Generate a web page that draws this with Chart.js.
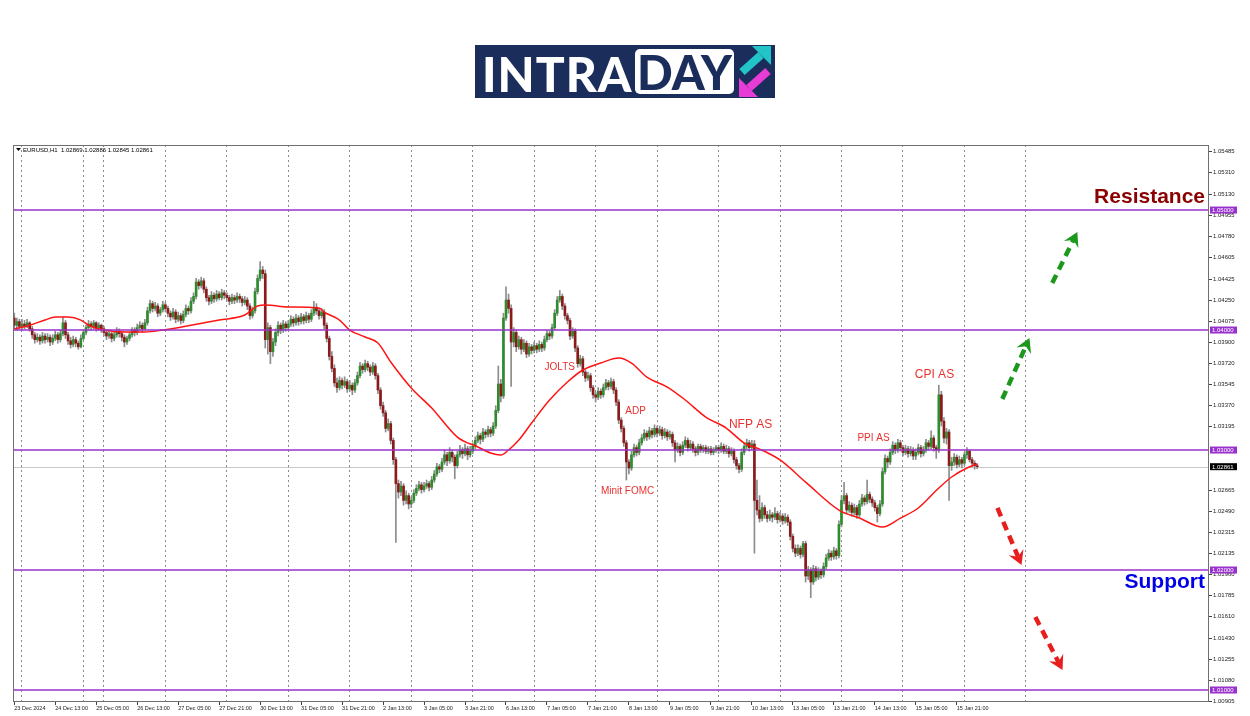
<!DOCTYPE html>
<html>
<head>
<meta charset="utf-8">
<script src="https://cdn.jsdelivr.net/npm/chart.js@4.4.1/dist/chart.umd.min.js"></script>
<style>
  html, body { margin: 0; padding: 0; background: #fff; }
  #wrap { position: relative; width: 1250px; height: 716px; }
  #logo { position: absolute; left: 475px; top: 45px; width: 300px; height: 53px; background: #1b2d5a; }
  #logo .intra { position: absolute; left: 7px; top: 0; line-height: 53px; font: 900 48px "Lato"; color: #fff; letter-spacing: 1px; }
  #logo .day { position: absolute; left: 160px; top: 4px; width: 99px; height: 45px; border-radius: 5px; background: #fff; color: #1b2d5a; font: 900 47px "Lato"; line-height: 46px; text-align: center; }
  #logo svg { position: absolute; left: 262px; top: 0; }
</style>
</head>
<body>
<div id="wrap">
  <canvas class="grafica" width="1250" height="716"></canvas>
  <div id="logo">
    <span class="intra">INTRA</span>
    <span class="day">DAY</span>
    <svg width="36" height="53" viewBox="0 0 36 53">
      <line x1="5" y1="27" x2="24" y2="10" stroke="#23c4c8" stroke-width="8"/>
      <polygon points="34,1 34,20 15,1" fill="#23c4c8"/>
      <line x1="31" y1="26" x2="12" y2="43" stroke="#e83cd6" stroke-width="8"/>
      <polygon points="2,52 2,33 21,52" fill="#e83cd6"/>
    </svg>
  </div>
</div>
<script>
// dias del grafico H1 (hora de inicio y numero de barras por dia)
const dias = ["23 Dec", "24 Dec", "25 Dec", "26 Dec", "27 Dec", "30 Dec", "31 Dec", "2 Jan", "3 Jan", "6 Jan",
    "7 Jan", "8 Jan", "9 Jan", "10 Jan", "13 Jan", "14 Jan", "15 Jan", "16 Jan", "17 Jan"];
const horaInicio = [21, 0, 0, 0, 0, 0, 0, 0, 0, 0, 0, 0, 0, 0, 0, 0, 0, 0, 0];
const barrasDia = [3, 24, 8, 24, 24, 24, 24, 24, 24, 24, 24, 24, 24, 24, 24, 24, 24, 24, 24];
const totalSlots = 467;

const etiquetasX = ["23 Dec 2024", "24 Dec 13:00", "25 Dec 05:00", "26 Dec 13:00", "27 Dec 05:00", "27 Dec 21:00",
    "30 Dec 13:00", "31 Dec 05:00", "31 Dec 21:00", "2 Jan 13:00", "3 Jan 05:00", "3 Jan 21:00", "6 Jan 13:00",
    "7 Jan 05:00", "7 Jan 21:00", "8 Jan 13:00", "9 Jan 05:00", "9 Jan 21:00", "10 Jan 13:00", "13 Jan 05:00",
    "13 Jan 21:00", "14 Jan 13:00", "15 Jan 05:00", "15 Jan 21:00"];

const ticksY = [1.05485, 1.05310, 1.05130, 1.04955, 1.04780, 1.04605, 1.04425, 1.04250, 1.04075, 1.03900,
    1.03720, 1.03545, 1.03370, 1.03195, 1.02665, 1.02490, 1.02315, 1.02135, 1.01960,
    1.01785, 1.01610, 1.01430, 1.01255, 1.01080, 1.00905];

const niveles = [1.05, 1.04, 1.03, 1.02, 1.01];
const precioActual = 1.02861;
const simbolo = "EURUSD,H1";
const ohlcUltima = "1.02869 1.02886 1.02845 1.02861";

// velas [open, high, low, close]
const velas = [
    // 23 Dec
    [1.0410,1.0414,1.0401,1.0404],[1.0404,1.0410,1.0400,1.0407],[1.0407,1.0409,1.0401,1.0403],
    // 24 Dec
    [1.0403,1.0409,1.0400,1.0405],[1.0405,1.0408,1.0401,1.0403],[1.0403,1.0409,1.0402,1.0406],[1.0406,1.0407,1.0399,1.0401],
    [1.0401,1.0403,1.0393,1.0396],[1.0396,1.0398,1.0389,1.0392],[1.0392,1.0397,1.0390,1.0394],[1.0394,1.0396,1.0388,1.0391],
    [1.0391,1.0398,1.0389,1.0395],[1.0395,1.0397,1.0389,1.0392],[1.0392,1.0397,1.0390,1.0394],[1.0394,1.0396,1.0387,1.0390],
    [1.0390,1.0396,1.0388,1.0393],[1.0393,1.0399,1.0391,1.0396],[1.0396,1.0398,1.0389,1.0392],[1.0392,1.0400,1.0390,1.0397],
    [1.0397,1.0411,1.0395,1.0406],[1.0406,1.0408,1.0393,1.0396],[1.0396,1.0398,1.0388,1.0391],[1.0391,1.0394,1.0385,1.0388],
    [1.0388,1.0395,1.0386,1.0392],[1.0392,1.0394,1.0386,1.0389],[1.0389,1.0391,1.0384,1.0386],[1.0386,1.0396,1.0385,1.0393],
    // 25 Dec
    [1.0393,1.0400,1.0392,1.0398],[1.0398,1.0404,1.0396,1.0402],[1.0402,1.0408,1.0400,1.0405],[1.0405,1.0407,1.0400,1.0403],
    [1.0403,1.0408,1.0401,1.0406],[1.0406,1.0407,1.0399,1.0402],[1.0402,1.0406,1.0400,1.0404],[1.0404,1.0405,1.0398,1.0401],
    // 26 Dec
    [1.0401,1.0403,1.0395,1.0398],[1.0398,1.0400,1.0392,1.0395],[1.0395,1.0400,1.0393,1.0397],[1.0397,1.0398,1.0390,1.0393],
    [1.0393,1.0399,1.0391,1.0396],[1.0396,1.0402,1.0394,1.0399],[1.0399,1.0401,1.0394,1.0397],[1.0397,1.0399,1.0391,1.0394],
    [1.0394,1.0396,1.0386,1.0390],[1.0390,1.0395,1.0388,1.0393],[1.0393,1.0398,1.0391,1.0396],[1.0396,1.0402,1.0394,1.0400],
    [1.0400,1.0402,1.0395,1.0398],[1.0398,1.0405,1.0396,1.0402],[1.0402,1.0407,1.0400,1.0404],[1.0404,1.0406,1.0398,1.0401],
    [1.0401,1.0409,1.0400,1.0406],[1.0406,1.0419,1.0404,1.0416],[1.0416,1.0425,1.0414,1.0422],[1.0422,1.0424,1.0415,1.0418],
    [1.0418,1.0423,1.0416,1.0420],[1.0420,1.0422,1.0411,1.0414],[1.0414,1.0419,1.0412,1.0417],[1.0417,1.0424,1.0415,1.0421],
    // 27 Dec
    [1.0421,1.0423,1.0415,1.0418],[1.0418,1.0420,1.0411,1.0414],[1.0414,1.0416,1.0408,1.0411],[1.0411,1.0418,1.0409,1.0415],
    [1.0415,1.0417,1.0406,1.0409],[1.0409,1.0415,1.0407,1.0412],[1.0412,1.0414,1.0405,1.0408],[1.0408,1.0416,1.0406,1.0413],
    [1.0413,1.0421,1.0411,1.0418],[1.0418,1.0420,1.0413,1.0416],[1.0416,1.0427,1.0414,1.0424],[1.0424,1.0431,1.0422,1.0428],
    [1.0428,1.0443,1.0426,1.0440],[1.0440,1.0442,1.0434,1.0437],[1.0437,1.0444,1.0435,1.0441],[1.0441,1.0443,1.0431,1.0434],
    [1.0434,1.0436,1.0424,1.0427],[1.0427,1.0429,1.0421,1.0424],[1.0424,1.0432,1.0422,1.0429],[1.0429,1.0431,1.0423,1.0426],
    [1.0426,1.0433,1.0424,1.0430],[1.0430,1.0432,1.0425,1.0427],[1.0427,1.0434,1.0425,1.0431],[1.0431,1.0433,1.0426,1.0429],
    // 30 Dec
    [1.0429,1.0431,1.0424,1.0427],[1.0427,1.0429,1.0421,1.0424],[1.0424,1.0430,1.0422,1.0427],[1.0427,1.0429,1.0422,1.0425],
    [1.0425,1.0431,1.0423,1.0428],[1.0428,1.0430,1.0423,1.0426],[1.0426,1.0428,1.0420,1.0423],[1.0423,1.0428,1.0421,1.0425],
    [1.0425,1.0427,1.0417,1.0420],[1.0420,1.0422,1.0409,1.0412],[1.0412,1.0419,1.0410,1.0416],[1.0416,1.0435,1.0414,1.0432],
    [1.0432,1.0446,1.0430,1.0443],[1.0443,1.0457,1.0441,1.0450],[1.0450,1.0453,1.0443,1.0447],[1.0447,1.0450,1.0385,1.0392],
    [1.0392,1.0406,1.0380,1.0402],[1.0402,1.0404,1.0372,1.0382],[1.0382,1.0393,1.0378,1.0390],[1.0390,1.0401,1.0387,1.0398],
    [1.0398,1.0407,1.0395,1.0404],[1.0404,1.0406,1.0397,1.0400],[1.0400,1.0408,1.0398,1.0405],[1.0405,1.0407,1.0399,1.0402],
    // 31 Dec
    [1.0402,1.0408,1.0400,1.0405],[1.0405,1.0412,1.0403,1.0409],[1.0409,1.0411,1.0403,1.0406],[1.0406,1.0413,1.0404,1.0410],
    [1.0410,1.0412,1.0404,1.0407],[1.0407,1.0414,1.0405,1.0411],[1.0411,1.0413,1.0405,1.0408],[1.0408,1.0415,1.0406,1.0412],
    [1.0412,1.0414,1.0406,1.0409],[1.0409,1.0417,1.0407,1.0414],[1.0414,1.0424,1.0412,1.0419],[1.0419,1.0422,1.0413,1.0416],
    [1.0416,1.0418,1.0409,1.0412],[1.0412,1.0418,1.0410,1.0415],[1.0415,1.0417,1.0401,1.0404],[1.0404,1.0406,1.0390,1.0393],
    [1.0393,1.0395,1.0375,1.0378],[1.0378,1.0382,1.0365,1.0368],[1.0368,1.0371,1.0353,1.0356],[1.0356,1.0360,1.0348,1.0352],
    [1.0352,1.0361,1.0350,1.0358],[1.0358,1.0360,1.0351,1.0354],[1.0354,1.0361,1.0352,1.0357],[1.0357,1.0359,1.0348,1.0351],
    // 2 Jan
    [1.0351,1.0358,1.0349,1.0354],[1.0354,1.0356,1.0346,1.0350],[1.0350,1.0359,1.0348,1.0356],[1.0356,1.0365,1.0354,1.0362],
    [1.0362,1.0373,1.0360,1.0370],[1.0370,1.0372,1.0364,1.0367],[1.0367,1.0375,1.0365,1.0372],[1.0372,1.0374,1.0366,1.0369],
    [1.0369,1.0371,1.0362,1.0365],[1.0365,1.0373,1.0363,1.0370],[1.0370,1.0372,1.0359,1.0362],[1.0362,1.0364,1.0347,1.0350],
    [1.0350,1.0352,1.0334,1.0337],[1.0337,1.0340,1.0328,1.0331],[1.0331,1.0333,1.0315,1.0318],[1.0318,1.0326,1.0316,1.0322],
    [1.0322,1.0324,1.0305,1.0308],[1.0308,1.0310,1.0288,1.0292],[1.0292,1.0294,1.0223,1.0272],[1.0272,1.0275,1.0260,1.0265],
    [1.0265,1.0274,1.0262,1.0270],[1.0270,1.0272,1.0254,1.0258],[1.0258,1.0266,1.0255,1.0262],[1.0262,1.0264,1.0251,1.0255],
    // 3 Jan
    [1.0255,1.0261,1.0252,1.0258],[1.0258,1.0267,1.0256,1.0264],[1.0264,1.0271,1.0262,1.0268],[1.0268,1.0274,1.0266,1.0271],
    [1.0271,1.0273,1.0264,1.0267],[1.0267,1.0273,1.0265,1.0270],[1.0270,1.0275,1.0268,1.0272],[1.0272,1.0274,1.0266,1.0269],
    [1.0269,1.0278,1.0267,1.0275],[1.0275,1.0283,1.0273,1.0280],[1.0280,1.0289,1.0278,1.0286],[1.0286,1.0288,1.0281,1.0284],
    [1.0284,1.0293,1.0282,1.0290],[1.0290,1.0300,1.0288,1.0296],[1.0296,1.0298,1.0287,1.0291],[1.0291,1.0302,1.0289,1.0298],
    [1.0298,1.0300,1.0290,1.0294],[1.0294,1.0296,1.0276,1.0287],[1.0287,1.0299,1.0285,1.0296],[1.0296,1.0304,1.0294,1.0300],
    [1.0300,1.0302,1.0293,1.0297],[1.0297,1.0305,1.0295,1.0301],[1.0301,1.0303,1.0292,1.0296],[1.0296,1.0303,1.0294,1.0299],
    // 6 Jan
    [1.0299,1.0306,1.0297,1.0303],[1.0303,1.0311,1.0301,1.0308],[1.0308,1.0315,1.0306,1.0312],[1.0312,1.0314,1.0305,1.0309],
    [1.0309,1.0318,1.0307,1.0315],[1.0315,1.0317,1.0310,1.0313],[1.0313,1.0320,1.0311,1.0317],[1.0317,1.0319,1.0311,1.0314],
    [1.0314,1.0323,1.0312,1.0320],[1.0320,1.0337,1.0318,1.0333],[1.0333,1.0370,1.0331,1.0355],[1.0355,1.0359,1.0340,1.0345],
    [1.0345,1.0414,1.0343,1.0410],[1.0410,1.0436,1.0408,1.0425],[1.0425,1.0430,1.0414,1.0418],[1.0418,1.0421,1.0353,1.0390],
    [1.0390,1.0402,1.0386,1.0398],[1.0398,1.0400,1.0382,1.0386],[1.0386,1.0395,1.0384,1.0392],[1.0392,1.0394,1.0380,1.0384],
    [1.0384,1.0392,1.0382,1.0389],[1.0389,1.0391,1.0377,1.0380],[1.0380,1.0389,1.0378,1.0386],[1.0386,1.0388,1.0380,1.0383],
    // 7 Jan
    [1.0383,1.0390,1.0381,1.0387],[1.0387,1.0389,1.0381,1.0384],[1.0384,1.0391,1.0382,1.0388],[1.0388,1.0390,1.0382,1.0385],
    [1.0385,1.0395,1.0383,1.0392],[1.0392,1.0400,1.0390,1.0397],[1.0397,1.0399,1.0392,1.0395],[1.0395,1.0405,1.0393,1.0402],
    [1.0402,1.0417,1.0400,1.0414],[1.0414,1.0428,1.0412,1.0425],[1.0425,1.0433,1.0423,1.0428],[1.0428,1.0430,1.0417,1.0420],
    [1.0420,1.0422,1.0409,1.0412],[1.0412,1.0414,1.0405,1.0408],[1.0408,1.0410,1.0392,1.0395],[1.0395,1.0402,1.0393,1.0399],
    [1.0399,1.0401,1.0382,1.0385],[1.0385,1.0387,1.0369,1.0372],[1.0372,1.0379,1.0370,1.0376],[1.0376,1.0378,1.0362,1.0365],
    [1.0365,1.0367,1.0357,1.0360],[1.0360,1.0365,1.0358,1.0362],[1.0362,1.0364,1.0349,1.0352],[1.0352,1.0354,1.0343,1.0346],
    // 8 Jan
    [1.0346,1.0348,1.0340,1.0344],[1.0344,1.0352,1.0342,1.0349],[1.0349,1.0351,1.0343,1.0346],[1.0346,1.0355,1.0344,1.0352],
    [1.0352,1.0359,1.0350,1.0356],[1.0356,1.0358,1.0350,1.0353],[1.0353,1.0360,1.0351,1.0357],[1.0357,1.0359,1.0347,1.0350],
    [1.0350,1.0352,1.0337,1.0340],[1.0340,1.0342,1.0322,1.0325],[1.0325,1.0327,1.0315,1.0318],[1.0318,1.0320,1.0303,1.0306],
    [1.0306,1.0308,1.0275,1.0290],[1.0290,1.0292,1.0280,1.0285],[1.0285,1.0299,1.0283,1.0296],[1.0296,1.0305,1.0294,1.0302],
    [1.0302,1.0304,1.0295,1.0298],[1.0298,1.0309,1.0296,1.0306],[1.0306,1.0313,1.0304,1.0310],[1.0310,1.0317,1.0308,1.0314],
    [1.0314,1.0316,1.0308,1.0311],[1.0311,1.0319,1.0309,1.0316],[1.0316,1.0318,1.0310,1.0313],[1.0313,1.0321,1.0311,1.0318],
    // 9 Jan
    [1.0318,1.0320,1.0311,1.0314],[1.0314,1.0320,1.0312,1.0317],[1.0317,1.0319,1.0309,1.0312],[1.0312,1.0318,1.0310,1.0315],
    [1.0315,1.0317,1.0308,1.0311],[1.0311,1.0316,1.0309,1.0313],[1.0313,1.0315,1.0303,1.0306],[1.0306,1.0308,1.0290,1.0300],
    [1.0300,1.0306,1.0298,1.0303],[1.0303,1.0305,1.0295,1.0298],[1.0298,1.0307,1.0296,1.0304],[1.0304,1.0311,1.0302,1.0308],
    [1.0308,1.0310,1.0299,1.0302],[1.0302,1.0308,1.0300,1.0305],[1.0305,1.0307,1.0298,1.0301],[1.0301,1.0303,1.0295,1.0298],
    [1.0298,1.0305,1.0296,1.0303],[1.0303,1.0305,1.0298,1.0300],[1.0300,1.0304,1.0298,1.0302],[1.0302,1.0304,1.0297,1.0299],
    [1.0299,1.0303,1.0297,1.0301],[1.0301,1.0303,1.0296,1.0298],[1.0298,1.0302,1.0296,1.0300],[1.0300,1.0304,1.0298,1.0302],
    // 10 Jan
    [1.0302,1.0304,1.0297,1.0300],[1.0300,1.0306,1.0298,1.0303],[1.0303,1.0305,1.0297,1.0299],[1.0299,1.0304,1.0297,1.0301],
    [1.0301,1.0303,1.0294,1.0297],[1.0297,1.0302,1.0295,1.0299],[1.0299,1.0301,1.0289,1.0292],[1.0292,1.0294,1.0284,1.0287],
    [1.0287,1.0289,1.0281,1.0284],[1.0284,1.0301,1.0282,1.0298],[1.0298,1.0306,1.0296,1.0303],[1.0303,1.0309,1.0301,1.0306],
    [1.0306,1.0308,1.0299,1.0302],[1.0302,1.0308,1.0300,1.0305],[1.0305,1.0308,1.0214,1.0258],[1.0258,1.0275,1.0246,1.0250],
    [1.0250,1.0262,1.0240,1.0243],[1.0243,1.0256,1.0241,1.0252],[1.0252,1.0254,1.0243,1.0246],[1.0246,1.0249,1.0240,1.0243],
    [1.0243,1.0250,1.0241,1.0246],[1.0246,1.0248,1.0240,1.0244],[1.0244,1.0252,1.0242,1.0247],[1.0247,1.0249,1.0239,1.0242],
    // 13 Jan
    [1.0242,1.0248,1.0240,1.0245],[1.0245,1.0247,1.0238,1.0241],[1.0241,1.0247,1.0239,1.0244],[1.0244,1.0246,1.0237,1.0240],
    [1.0240,1.0242,1.0225,1.0228],[1.0228,1.0230,1.0215,1.0218],[1.0218,1.0221,1.0211,1.0214],[1.0214,1.0221,1.0212,1.0218],
    [1.0218,1.0220,1.0210,1.0213],[1.0213,1.0224,1.0211,1.0222],[1.0222,1.0224,1.0190,1.0195],[1.0195,1.0203,1.0192,1.0200],
    [1.0200,1.0202,1.0177,1.0190],[1.0190,1.0204,1.0188,1.0201],[1.0201,1.0203,1.0191,1.0194],[1.0194,1.0202,1.0192,1.0199],
    [1.0199,1.0201,1.0193,1.0196],[1.0196,1.0206,1.0194,1.0203],[1.0203,1.0213,1.0201,1.0210],[1.0210,1.0217,1.0208,1.0214],
    [1.0214,1.0216,1.0208,1.0211],[1.0211,1.0219,1.0209,1.0216],[1.0216,1.0218,1.0209,1.0212],[1.0212,1.0241,1.0210,1.0238],
    // 14 Jan
    [1.0238,1.0262,1.0236,1.0258],[1.0258,1.0273,1.0255,1.0262],[1.0262,1.0264,1.0247,1.0250],[1.0250,1.0257,1.0248,1.0254],
    [1.0254,1.0256,1.0245,1.0248],[1.0248,1.0255,1.0246,1.0252],[1.0252,1.0254,1.0243,1.0246],[1.0246,1.0258,1.0244,1.0255],
    [1.0255,1.0263,1.0253,1.0260],[1.0260,1.0262,1.0254,1.0257],[1.0257,1.0275,1.0255,1.0263],[1.0263,1.0265,1.0256,1.0259],
    [1.0259,1.0261,1.0253,1.0256],[1.0256,1.0258,1.0249,1.0252],[1.0252,1.0254,1.0240,1.0247],[1.0247,1.0258,1.0245,1.0255],
    [1.0255,1.0285,1.0253,1.0282],[1.0282,1.0296,1.0280,1.0293],[1.0293,1.0295,1.0285,1.0290],[1.0290,1.0301,1.0288,1.0298],
    [1.0298,1.0307,1.0296,1.0304],[1.0304,1.0306,1.0297,1.0300],[1.0300,1.0309,1.0298,1.0306],[1.0306,1.0308,1.0299,1.0302],
    // 15 Jan
    [1.0302,1.0304,1.0295,1.0298],[1.0298,1.0304,1.0296,1.0301],[1.0301,1.0303,1.0294,1.0297],[1.0297,1.0303,1.0295,1.0300],
    [1.0300,1.0302,1.0292,1.0295],[1.0295,1.0301,1.0292,1.0298],[1.0298,1.0305,1.0296,1.0302],[1.0302,1.0304,1.0294,1.0297],
    [1.0297,1.0303,1.0295,1.0300],[1.0300,1.0309,1.0298,1.0306],[1.0306,1.0308,1.0300,1.0303],[1.0303,1.0316,1.0301,1.0310],
    [1.0310,1.0312,1.0299,1.0302],[1.0302,1.0304,1.0293,1.0300],[1.0300,1.0354,1.0298,1.0346],[1.0346,1.0349,1.0320,1.0324],
    [1.0324,1.0327,1.0306,1.0310],[1.0310,1.0318,1.0305,1.0315],[1.0315,1.0317,1.0258,1.0287],[1.0287,1.0294,1.0283,1.0290],
    [1.0290,1.0297,1.0287,1.0294],[1.0294,1.0296,1.0285,1.0288],[1.0288,1.0295,1.0286,1.0292],[1.0292,1.0294,1.0285,1.0289],
    // 16 Jan
    [1.0289,1.0298,1.0287,1.0296],[1.0296,1.0302,1.0293,1.0299],[1.0299,1.0300,1.0290,1.0292],[1.0292,1.0294,1.0286,1.0289],
    [1.0289,1.0291,1.0284,1.02869],[1.02869,1.02886,1.02845,1.02861]
];

// media movil [indice de barra, valor]
const mediaMovil = [
    [0,1.04008],[6,1.0404],[12,1.04083],[16,1.04108],[21,1.04108],[26,1.04083],[29,1.0404],[35,1.0400],
    [43,1.03983],[51,1.03983],[58,1.0400],[69,1.0404],[80,1.04083],[90,1.04125],[95,1.0420],[98,1.04208],
    [107,1.04192],[119,1.04183],[121,1.0415],[127,1.04083],[131,1.0400],[137,1.03942],[142,1.03892],[147,1.03733],
    [155,1.03517],[163,1.0335],[173,1.03108],[181,1.03025],[186,1.02975],[190,1.02958],[193,1.0300],[197,1.03083],
    [202,1.03225],[209,1.03417],[216,1.03567],[222,1.03667],[229,1.03725],[236,1.03767],[241,1.03725],[247,1.03608],
    [255,1.03525],[262,1.03417],[270,1.03275],[278,1.03183],[285,1.03058],[291,1.03008],[299,1.02917],[309,1.02733],
    [322,1.025],[330,1.02433],[339,1.02358],[346,1.02433],[353,1.02517],[361,1.02683],[366,1.02775],[372,1.0285],
    [376,1.02883]
];

const notas = [
    { texto: "JOLTS", i: 213, precio: 1.03692, size: 10 },
    { texto: "ADP", i: 242.6, precio: 1.03325, size: 10 },
    { texto: "Minit FOMC", i: 239.5, precio: 1.02658, size: 10 },
    { texto: "NFP AS", i: 287.5, precio: 1.03208, size: 12 },
    { texto: "PPI AS", i: 335.5, precio: 1.031, size: 10 },
    { texto: "CPI AS", i: 359.3, precio: 1.03625, size: 12 }
];

const flechas = [
    { desde: [385.8, 1.03425], hasta: [396.4, 1.03933], color: "#1c981c" },
    { desde: [405.3, 1.04392], hasta: [415.1, 1.04817], color: "#1c981c" },
    { desde: [383.9, 1.02517], hasta: [393.3, 1.02042], color: "#e81e1e" },
    { desde: [398.7, 1.01608], hasta: [409.3, 1.01167], color: "#e81e1e" }
];

// etiquetas de categoria, una por hora
const etiquetas = [];
dias.forEach((d, k) => {
    for (let h = horaInicio[k]; h < horaInicio[k] + barrasDia[k]; h++) {
        etiquetas.push(`${d} ${String(h).padStart(2, "0")}:00`);
    }
});
while (etiquetas.length < totalSlots) etiquetas.push("");

const textoTick = {};
etiquetasX.forEach(t => {
    const i = etiquetas.indexOf(t);
    textoTick[i === -1 ? 0 : i] = t;
});

const cuerpos = velas.map(v => [v[0], v[3]]);
const mechas = velas.map(v => [v[2], v[1]]);
const coloresCuerpo = velas.map(v => v[3] >= v[0] ? "#2e8b2e" : "#8b1a1a");

function dibujarFlecha(ctx, x1, y1, x2, y2, color) {
    const ang = Math.atan2(y2 - y1, x2 - x1);
    const largo = Math.hypot(x2 - x1, y2 - y1);
    ctx.save();
    ctx.translate(x1, y1);
    ctx.rotate(ang);
    ctx.strokeStyle = color;
    ctx.fillStyle = color;
    ctx.lineWidth = 4.5;
    ctx.setLineDash([9, 6]);
    ctx.beginPath();
    ctx.moveTo(0, 0);
    ctx.lineTo(largo - 9, 0);
    ctx.stroke();
    ctx.setLineDash([]);
    ctx.beginPath();
    ctx.moveTo(largo, 0);
    ctx.lineTo(largo - 14, -8);
    ctx.lineTo(largo - 9, 0);
    ctx.lineTo(largo - 14, 8);
    ctx.closePath();
    ctx.fill();
    ctx.restore();
}

const capas = {
    id: "capas",
    beforeDatasetsDraw(chart) {
        const { ctx, chartArea: a, scales: { y } } = chart;
        const yp = Math.round(y.getPixelForValue(precioActual)) + 0.5;
        ctx.save();
        ctx.strokeStyle = "#c8c8c8";
        ctx.lineWidth = 1;
        ctx.beginPath();
        ctx.moveTo(a.left, yp);
        ctx.lineTo(a.right, yp);
        ctx.stroke();
        ctx.restore();
    },
    afterDatasetsDraw(chart) {
        const { ctx, chartArea: a, scales: { x, y } } = chart;
        ctx.save();
        ctx.strokeStyle = "#9932cc";
        ctx.lineWidth = 1.5;
        niveles.forEach(n => {
            const yp = y.getPixelForValue(n);
            ctx.beginPath();
            ctx.moveTo(a.left, yp);
            ctx.lineTo(a.right, yp);
            ctx.stroke();
        });

        ctx.textAlign = "center";
        ctx.textBaseline = "middle";
        ctx.fillStyle = "#e8312f";
        notas.forEach(n => {
            ctx.font = `${n.size}px "Liberation Sans"`;
            ctx.fillText(n.texto, x.getPixelForValue(n.i), y.getPixelForValue(n.precio));
        });

        ctx.textAlign = "right";
        ctx.font = 'bold 21px "Liberation Sans"';
        ctx.fillStyle = "#8b0000";
        ctx.fillText("Resistance", a.right - 4, y.getPixelForValue(1.05108));
        ctx.fillStyle = "#0000e6";
        ctx.fillText("Support", a.right - 4, y.getPixelForValue(1.019));

        flechas.forEach(f => dibujarFlecha(ctx,
            x.getPixelForValue(f.desde[0]), y.getPixelForValue(f.desde[1]),
            x.getPixelForValue(f.hasta[0]), y.getPixelForValue(f.hasta[1]), f.color));
        ctx.restore();
    },
    afterDraw(chart) {
        const { ctx, chartArea: a, scales: { y } } = chart;
        ctx.save();
        ctx.strokeStyle = "#707070";
        ctx.lineWidth = 1;
        ctx.strokeRect(a.left + 0.5, a.top + 0.5, a.width - 1, a.height - 1);

        ctx.font = '6px "Liberation Sans"';
        ctx.textAlign = "left";
        ctx.textBaseline = "middle";
        niveles.forEach(n => {
            const yp = y.getPixelForValue(n);
            ctx.fillStyle = "#9932cc";
            ctx.fillRect(a.right + 1, yp - 3.5, 27, 7);
            ctx.fillStyle = "#fff";
            ctx.fillText(n.toFixed(5), a.right + 3, yp + 0.5);
        });
        const yb = y.getPixelForValue(precioActual);
        ctx.fillStyle = "#000";
        ctx.fillRect(a.right + 1, yb - 3.5, 27, 7);
        ctx.fillStyle = "#fff";
        ctx.fillText(precioActual.toFixed(5), a.right + 3, yb + 0.5);

        ctx.fillStyle = "#000";
        ctx.beginPath();
        ctx.moveTo(a.left + 3, a.top + 3);
        ctx.lineTo(a.left + 8, a.top + 3);
        ctx.lineTo(a.left + 5.5, a.top + 6);
        ctx.closePath();
        ctx.fill();
        ctx.fillText(simbolo + "  " + ohlcUltima, a.left + 10, a.top + 5);
        ctx.restore();
    }
};

Chart.defaults.font.family = '"Liberation Sans", Arial, sans-serif';

const config = {
    type: "bar",
    data: {
        labels: etiquetas,
        datasets: [
            {
                type: "line",
                label: "MA",
                data: mediaMovil.map(p => ({ x: etiquetas[p[0]], y: p[1] })),
                borderColor: "#ff1414",
                borderWidth: 1.5,
                pointRadius: 0,
                cubicInterpolationMode: "monotone",
                order: 0
            },
            {
                label: "cuerpos",
                data: cuerpos,
                backgroundColor: coloresCuerpo,
                borderWidth: 0,
                barThickness: 2,
                minBarLength: 1,
                grouped: false,
                order: 1
            },
            {
                label: "mechas",
                data: mechas,
                backgroundColor: "#8c8c8c",
                borderWidth: 0,
                barThickness: 1,
                grouped: false,
                order: 2
            }
        ]
    },
    plugins: [capas],
    options: {
        responsive: false,
        animation: false,
        events: [],
        layout: { padding: { left: 13, top: 145, right: 0, bottom: 0 } },
        plugins: {
            legend: { display: false },
            tooltip: { enabled: false }
        },
        scales: {
            x: {
                offset: true,
                grid: {
                    offset: false,
                    color: c => (etiquetas[c.index] || "").endsWith(" 00:00") ? "#8a8a8a" : "transparent",
                    lineWidth: 1,
                    tickLength: 3,
                    tickColor: c => textoTick[c.index] ? "#444" : "transparent",
                    tickBorderDash: []
                },
                border: { display: false, dash: [2, 3] },
                ticks: {
                    autoSkip: false,
                    maxRotation: 0,
                    minRotation: 0,
                    align: "start",
                    padding: 0,
                    color: "#222",
                    font: { size: 5.5 },
                    callback: (v, i) => textoTick[i] || ""
                },
                afterFit: s => { s.height = 14; }
            },
            y: {
                position: "right",
                beginAtZero: false,
                min: 1.0090,
                max: 1.05542,
                afterBuildTicks: s => { s.ticks = ticksY.map(v => ({ value: v })); },
                grid: { drawOnChartArea: false, tickLength: 3, tickColor: "#444" },
                border: { display: false },
                ticks: {
                    padding: 1,
                    color: "#222",
                    font: { size: 6 },
                    callback: v => v.toFixed(5)
                },
                afterFit: s => { s.width = 41; }
            }
        }
    }
};

const ctx = document.querySelector(".grafica");
const grafica = new Chart(ctx, config);
</script>
</body>
</html>
